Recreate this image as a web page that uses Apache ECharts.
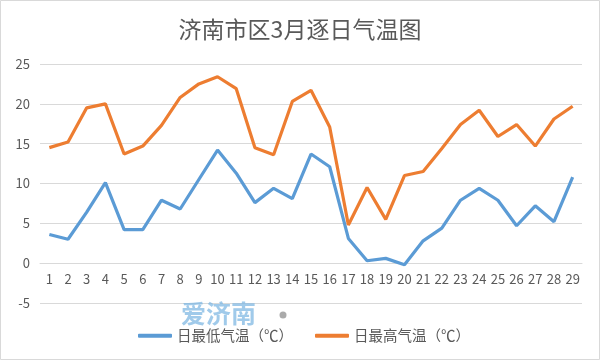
<!DOCTYPE html>
<html><head><meta charset="utf-8">
<script src="https://cdn.jsdelivr.net/npm/echarts@6/dist/echarts.min.js"></script>
<style>html,body{margin:0;padding:0;background:#fff}#c{width:600px;height:360px}</style>
</head><body><div id="c"></div>
<script>
const days = ['1','2','3','4','5','6','7','8','9','10','11','12','13','14','15','16','17','18','19','20','21','22','23','24','25','26','27','28','29'];
const minTemp = [3.6,3.0,6.4,10.1,4.2,4.2,7.9,6.8,10.5,14.2,11.3,7.6,9.4,8.1,13.7,12.1,3.1,0.3,0.6,-0.2,2.8,4.4,7.9,9.4,7.9,4.7,7.2,5.2,10.8];
const maxTemp = [14.5,15.2,19.5,20.0,13.7,14.7,17.3,20.8,22.5,23.4,21.9,14.5,13.6,20.3,21.7,17.1,4.8,9.5,5.5,11.0,11.5,14.4,17.4,19.2,15.9,17.4,14.7,18.1,19.7];
const seriesNames = ['日最低气温（℃）','日最高气温（℃）'];
const titleText = '济南市区3月逐日气温图';

const font = '"Noto Sans CJK SC", "Noto Sans", sans-serif';
const chart = echarts.init(document.getElementById('c'));
chart.setOption({
  backgroundColor: '#fff',
  animation: false,
  textStyle: {fontFamily: font},
  title: {text: titleText, left: 'center', top: 13,
    textStyle: {fontSize: 23, fontWeight: 'normal', color: '#595959', fontFamily: font}},
  grid: {left: 40, right: 18, top: 64, bottom: 57},
  legend: {bottom: 12, left: 133, itemGap: 22, itemWidth: 34, itemHeight: 4, icon: 'roundRect',
    textStyle: {fontSize: 14.5, color: '#595959', fontFamily: font},
    data: seriesNames},
  xAxis: {type: 'category', data: days, boundaryGap: true, offset: -40,
    axisLine: {onZero: false, lineStyle: {color: '#d9d9d9'}},
    axisTick: {show: false},
    axisLabel: {color: '#595959', fontSize: 13, margin: 10, interval: 0}},
  yAxis: {type: 'value', min: -5, max: 25, interval: 5,
    axisLine: {show: false}, axisTick: {show: false},
    axisLabel: {color: '#595959', fontSize: 13, margin: 10},
    splitLine: {lineStyle: {color: '#d9d9d9', width: 1}}},
  graphic: [
    {type: 'rect', shape: {x: 0.5, y: 0.5, width: 599, height: 359}, style: {fill: 'none', stroke: '#d9d9d9', lineWidth: 1}, silent: true},
    {type: 'text', left: 181, top: 301, style: {text: '爱济南', fontSize: 25, fontWeight: 'bold', fill: 'rgba(120,180,225,0.7)', fontFamily: font}, silent: true, z: 10},
    {type: 'circle', shape: {cx: 283, cy: 315, r: 3.5}, style: {fill: '#aaaaaa'}, silent: true, z: 10}
  ],
  series: [
    {name: seriesNames[0], type: 'line', data: minTemp, symbol: 'none', lineStyle: {width: 3.2, color: '#5B9BD5'}, itemStyle: {color: '#5B9BD5'}},
    {name: seriesNames[1], type: 'line', data: maxTemp, symbol: 'none', lineStyle: {width: 3.2, color: '#ED7D31'}, itemStyle: {color: '#ED7D31'}}
  ]
});
</script></body></html>
